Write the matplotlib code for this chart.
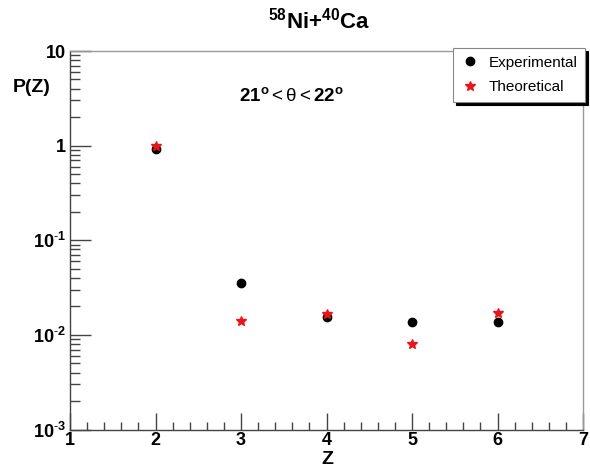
import matplotlib
matplotlib.use("Agg")
import matplotlib.pyplot as plt
from matplotlib.ticker import FixedLocator, FixedFormatter, NullFormatter

plt.rcParams['font.family'] = ['Liberation Sans', 'DejaVu Sans']
plt.rcParams['mathtext.fontset'] = 'custom'
plt.rcParams['mathtext.rm'] = 'Liberation Sans'
plt.rcParams['mathtext.bf'] = 'Liberation Sans:bold'
plt.rcParams['mathtext.it'] = 'Liberation Sans:italic'
plt.rcParams['mathtext.default'] = 'regular'

Z = [2, 3, 4, 5, 6]
p_exp = [0.93, 0.0357, 0.0156, 0.0138, 0.0138]
p_theo = [0.98, 0.0140, 0.0168, 0.0080, 0.0172]
ytick_vals = [1e-3, 1e-2, 1e-1, 1, 10]
ytick_labels = [r'10$^{\text{-}3}$', r'10$^{\text{-}2}$', r'10$^{\text{-}1}$', '1', '10']
xtick_vals = [1, 2, 3, 4, 5, 6, 7]

fig = plt.figure(figsize=(5.9, 4.68), dpi=100)
ax = fig.add_axes([70/590, 1-429.5/468, (583-70)/590, (429.5-51)/468])

ax.plot(Z, p_exp, 'o', color='black', markersize=6, label='Experimental', zorder=3)
ax.plot(Z, p_theo, '*', color='#e8151b', markersize=7.5, label='Theoretical', zorder=4)

ax.set_yscale('log')
ax.set_xlim(1, 7)
ax.set_ylim(1e-3, 10)

ax.yaxis.set_major_locator(FixedLocator(ytick_vals))
ax.yaxis.set_major_formatter(FixedFormatter(ytick_labels))
minors = [m * 10.0**e for e in range(-3, 1) for m in range(2, 10)]
ax.yaxis.set_minor_locator(FixedLocator(minors))
ax.yaxis.set_minor_formatter(NullFormatter())

ax.xaxis.set_major_locator(FixedLocator(xtick_vals))
ax.set_xticklabels([str(v) for v in xtick_vals])
ax.xaxis.set_minor_locator(FixedLocator([1 + 0.2*i for i in range(31) if i % 5 != 0]))

ax.tick_params(which='both', direction='in', top=False, right=False, color='#444444')
ax.tick_params(axis='y', which='major', length=15, width=1, pad=3)
ax.tick_params(axis='y', which='minor', length=7, width=1)
ax.tick_params(axis='x', which='major', length=12, width=1, pad=2)
ax.tick_params(axis='x', which='minor', length=6, width=1)
for lab in ax.get_xticklabels() + ax.get_yticklabels():
    lab.set_fontweight('bold')
    lab.set_fontsize(13)
for s in ax.spines.values():
    s.set_color('#444444')
    s.set_linewidth(1)
ax.spines['top'].set_color('#999999')
ax.spines['right'].set_color('#999999')

fig.text(319/590, 1-21/468, '$^{58}$Ni+$^{40}$Ca', ha='center', va='center',
         fontsize=16, fontweight='bold')
fig.text(291/590, 1-96/468, r'$\mathbf{21^{o}}<\mathrm{\theta}<\mathbf{22^{o}}$',
         ha='center', va='center', fontsize=13.5)
fig.text(32/590, 1-88/468, 'P(Z)', ha='center', va='center', fontsize=14, fontweight='bold')
fig.text(327/590, 1-460/468, 'Z', ha='center', va='center', fontsize=14, fontweight='bold')

leg = ax.legend(loc='upper right', bbox_to_anchor=(585/590, 1-48/468),
                bbox_transform=fig.transFigure, frameon=True, fancybox=False,
                shadow={'color': 'black', 'alpha': 1}, fontsize=11,
                borderpad=0.5, handletextpad=0.6, labelspacing=0.7, handlelength=1.2,
                borderaxespad=0)
leg.get_frame().set_edgecolor('#888888')
leg.get_frame().set_linewidth(0.8)

fig.savefig('out.png', dpi=100)
